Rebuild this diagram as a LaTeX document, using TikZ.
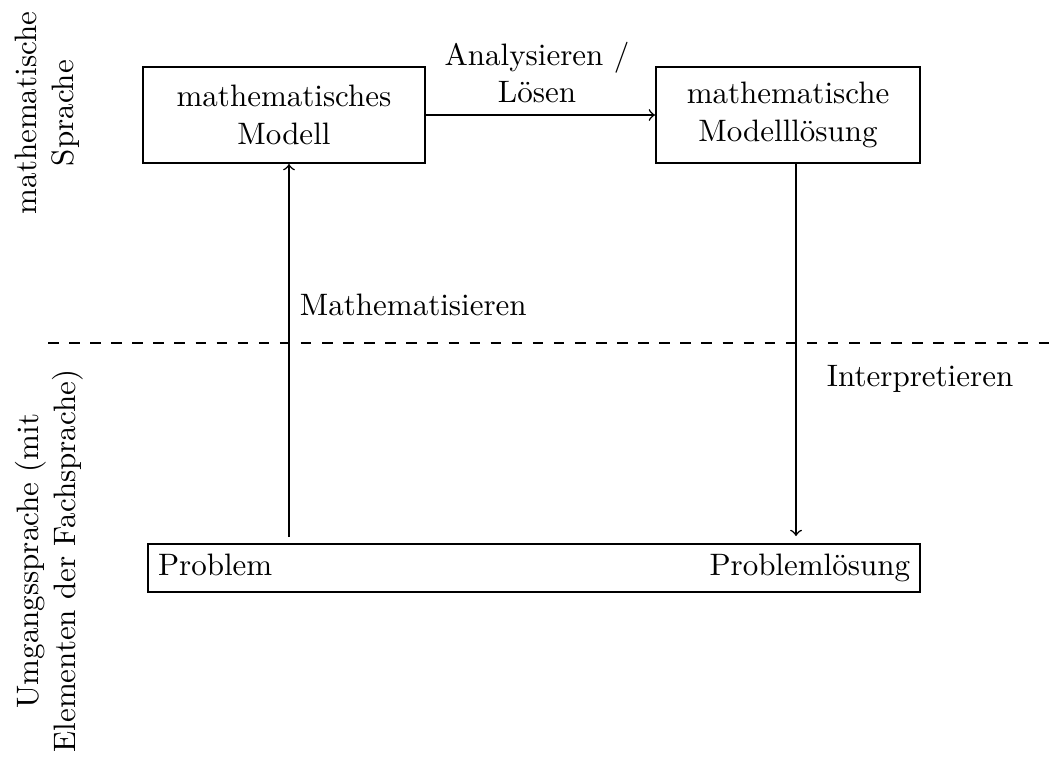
\documentclass[tikz,border=0pt]{standalone}
\usetikzlibrary{calc}
\begin{document}
\begin{tikzpicture}[x=0.3226pt,y=-0.3226pt,
  box/.style={draw,line width=0.65pt,align=center,inner sep=0pt},
  conn/.style={->,line width=0.5pt},
  lbl/.style={inner sep=3.333pt},
  side/.style={rotate=90,align=center,inner sep=0pt},
  sep/.style={line width=0.5pt,dash pattern=on 3.4pt off 3.4pt}]
\useasboundingbox (0,0) rectangle (1056,758);
% boxes
\node[box,minimum width=91pt,minimum height=31pt] (mm) at (284,115) {mathematisches\\Modell};
\node[box,minimum width=85.2pt,minimum height=31pt] (ml) at (788,115) {mathematische\\Modelll\"osung};
\node[box,minimum width=249pt,minimum height=15.4pt] (pb) at (534,568) {};
\coordinate (bl) at ($(pb.west)+(0,7.5)$);
\coordinate (br) at ($(pb.east)+(0,7.5)$);
\node[lbl,anchor=base west] (p) at (bl) {Problem};
\node[lbl,anchor=base east] (pl) at (br) {Probleml\"osung};
% connectors
\draw[conn] (mm.east) -- (ml.west);
\node[align=center] (an) at (537,72.5) {Analysieren /\\L\"osen};
\coordinate (up0) at (289,537);
\draw[conn] (up0) -- (up0 |- mm.south);
\node[lbl,anchor=west] (mat) at (289,305) {Mathematisieren};
\coordinate (dn1) at (796,536);
\draw[conn] (dn1 |- ml.south) -- (dn1);
\node[lbl,anchor=west] (int) at (816,379) {Interpretieren};
% separator
\coordinate (s0) at (48,343);
\coordinate (s1) at (1056,343);
\draw[sep] (s0) -- (s1);
% side labels
\node[side] (ms) at (47,113) {mathematische\\Sprache};
\node[side] (us) at (49,561) {Umgangssprache (mit\\Elementen der Fachsprache)};
\end{tikzpicture}
\end{document}
